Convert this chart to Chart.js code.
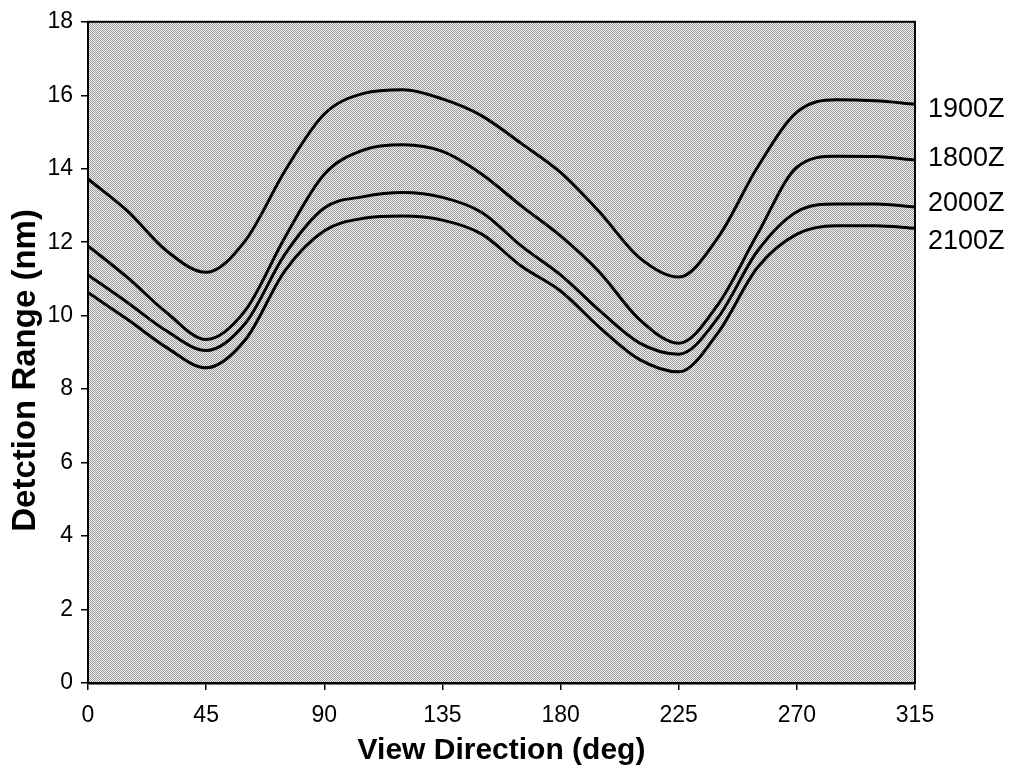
<!DOCTYPE html>
<html>
<head>
<meta charset="utf-8">
<script src="https://cdn.jsdelivr.net/npm/chart.js@4/dist/chart.umd.min.js"></script>
<style>
  html, body { margin: 0; padding: 0; background: #fff; }
  #wrap { width: 1011px; height: 772px; }
</style>
</head>
<body>
<div id="wrap"><canvas id="range"></canvas></div>
<script>
// view direction samples (deg)
const directions = [0, 15, 30, 45, 60, 75, 90, 105, 120, 135, 150, 165, 180, 195, 210, 225, 240, 255, 270, 285, 300, 315];

// detection range (nm) for each time
const range1900 = [13.72, 12.85, 11.76, 11.18, 12.05, 13.94, 15.49, 16.05, 16.15, 15.9, 15.44, 14.69, 13.9, 12.81, 11.58, 11.05, 12.13, 14.04, 15.54, 15.88, 15.85, 15.76];
const range1800 = [11.9, 11.04, 10.08, 9.35, 10.15, 12.13, 13.85, 14.51, 14.65, 14.47, 13.85, 12.99, 12.17, 11.17, 9.9, 9.25, 10.31, 12.22, 14.04, 14.34, 14.33, 14.24];
const range2000 = [11.11, 10.36, 9.58, 9.05, 9.8, 11.67, 12.93, 13.24, 13.35, 13.22, 12.81, 11.9, 11.11, 10.13, 9.26, 8.95, 9.95, 11.76, 12.83, 13.04, 13.04, 12.96];
const range2100 = [10.63, 9.9, 9.13, 8.58, 9.35, 11.22, 12.31, 12.65, 12.71, 12.6, 12.22, 11.35, 10.67, 9.67, 8.81, 8.47, 9.54, 11.31, 12.22, 12.45, 12.45, 12.38];

const seriesNames = ['1900Z', '1800Z', '2000Z', '2100Z'];
const seriesValues = [range1900, range1800, range2000, range2100];

// small vertical nudges so the end labels don't collide (px)
const labelNudge = [5, -1, -3, 13];

const FONT = '"Liberation Sans", Arial, sans-serif';
const Y_TITLE = 'Detction Range (nm)';

// stippled grey fill like the printed plot
function makeStipple(ctx) {
    const tile = document.createElement('canvas');
    tile.width = 2;
    tile.height = 2;
    const t = tile.getContext('2d');
    t.fillStyle = '#f0f0f0';
    t.fillRect(0, 0, 2, 2);
    t.fillStyle = '#9c9c9c';
    t.fillRect(0, 0, 1, 1);
    t.fillRect(1, 1, 1, 1);
    return ctx.createPattern(tile, 'repeat');
}

const plotDecor = {
    id: 'plotDecor',
    beforeDatasetsDraw(chart) {
        const {ctx, chartArea: a} = chart;
        ctx.save();
        ctx.fillStyle = makeStipple(ctx);
        ctx.fillRect(a.left, a.top, a.right - a.left, a.bottom - a.top);
        ctx.restore();
    },
    afterDatasetsDraw(chart) {
        const {ctx, chartArea: a} = chart;
        ctx.save();
        ctx.strokeStyle = '#000';
        ctx.lineWidth = 2;
        ctx.strokeRect(a.left, a.top, a.right - a.left, a.bottom - a.top);

        ctx.fillStyle = '#000';
        ctx.font = '27px ' + FONT;
        ctx.textAlign = 'left';
        ctx.textBaseline = 'middle';
        chart.data.datasets.forEach((ds, i) => {
            const pts = chart.getDatasetMeta(i).data;
            const last = pts[pts.length - 1];
            ctx.fillText(ds.label, a.right + 13, last.y + labelNudge[i]);
        });

        // y title sits a little below the middle of the axis in the original
        ctx.translate(26, (a.top + a.bottom) / 2 + 18);
        ctx.rotate(-Math.PI / 2);
        ctx.font = 'bold 33px ' + FONT;
        ctx.textAlign = 'center';
        ctx.fillText(Y_TITLE, 0, 0);
        ctx.restore();
    }
};

const datasets = seriesNames.map((name, i) => ({
    label: name,
    data: directions.map((d, j) => ({x: d, y: seriesValues[i][j]})),
    borderColor: '#000',
    borderWidth: 3,
    pointRadius: 0,
    fill: false,
    cubicInterpolationMode: 'monotone'
}));

new Chart(document.getElementById('range'), {
    type: 'line',
    data: { datasets: datasets },
    plugins: [plotDecor],
    options: {
        responsive: true,
        maintainAspectRatio: false,
        animation: false,
        events: [],
        layout: { padding: { top: 20, right: 96, left: 0, bottom: 0 } },
        plugins: {
            legend: { display: false },
            tooltip: { enabled: false }
        },
        scales: {
            x: {
                type: 'linear',
                min: 0,
                max: 315,
                afterFit(scale) { scale.height = 89; },
                ticks: {
                    stepSize: 45,
                    color: '#000',
                    padding: 12,
                    maxRotation: 0,
                    font: { family: FONT, size: 23 }
                },
                grid: { drawOnChartArea: false, drawTicks: true, tickLength: 7, color: '#000', lineWidth: 1.5 },
                border: { display: true, color: '#000', width: 2.5 },
                title: {
                    display: true,
                    text: 'View Direction (deg)',
                    color: '#000',
                    padding: { top: 0, bottom: 3 },
                    font: { family: FONT, size: 30, weight: 'bold' }
                }
            },
            y: {
                min: 0,
                max: 18,
                afterFit(scale) { scale.width = 88; },
                ticks: {
                    stepSize: 2,
                    color: '#000',
                    padding: 8,
                    font: { family: FONT, size: 23 }
                },
                grid: { drawOnChartArea: false, drawTicks: true, tickLength: 7, color: '#000', lineWidth: 1.5 },
                border: { display: true, color: '#000', width: 2.5 }
            }
        }
    }
});
</script>
</body>
</html>
